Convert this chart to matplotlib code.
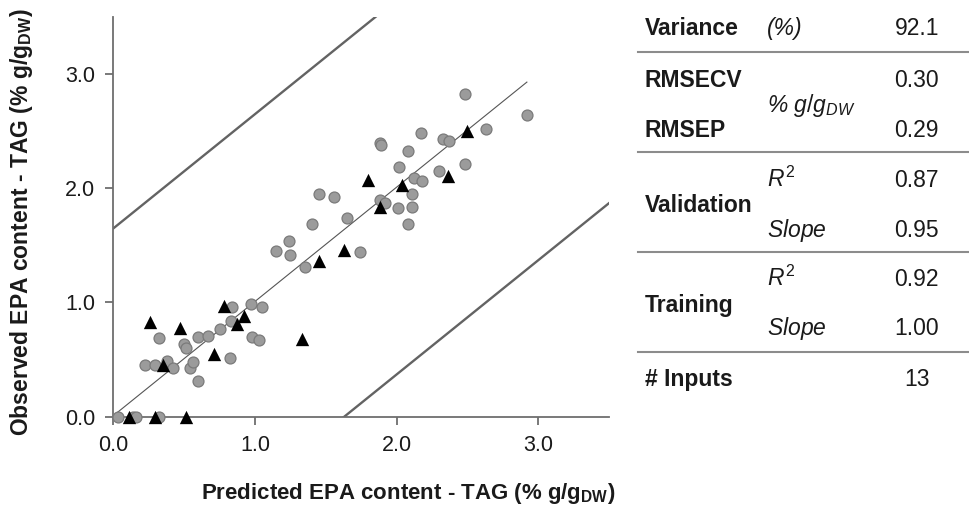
import matplotlib.pyplot as plt

plt.rcParams['font.family'] = ['Liberation Sans', 'DejaVu Sans']
plt.rcParams['mathtext.fontset'] = 'custom'
plt.rcParams['mathtext.rm'] = 'Liberation Sans'
plt.rcParams['mathtext.it'] = 'Liberation Sans:italic'
plt.rcParams['mathtext.bf'] = 'Liberation Sans:bold'

# training set (grey circles)
train_x = [0.03, 0.14, 0.16, 0.32, 0.22, 0.29, 0.38, 0.42, 0.32, 0.50, 0.51, 0.54,
           0.56, 0.60, 0.60, 0.67, 0.75, 0.82, 0.83, 0.84, 0.97, 1.05, 0.98, 1.03,
           1.15, 1.24, 1.25, 1.35, 1.40, 1.65, 1.74, 1.45, 1.56, 2.48, 2.92, 2.63,
           1.88, 1.89, 2.17, 2.33, 2.37, 2.08, 2.02, 2.48, 2.30, 2.12, 2.18, 2.11,
           1.88, 1.92, 2.01, 2.11, 2.08]
train_y = [0.00, 0.00, 0.00, 0.00, 0.45, 0.45, 0.49, 0.43, 0.69, 0.64, 0.60, 0.43,
           0.48, 0.31, 0.70, 0.71, 0.77, 0.51, 0.84, 0.96, 0.99, 0.96, 0.70, 0.67,
           1.45, 1.54, 1.42, 1.31, 1.69, 1.74, 1.44, 1.95, 1.92, 2.83, 2.64, 2.52,
           2.40, 2.38, 2.48, 2.43, 2.41, 2.33, 2.19, 2.21, 2.15, 2.09, 2.06, 1.95,
           1.90, 1.87, 1.83, 1.84, 1.69]

# validation set (black triangles)
valid_x = [0.11, 0.29, 0.51, 0.26, 0.47, 0.35, 0.71, 0.78, 0.87, 0.92, 1.33, 1.45,
           1.63, 2.50, 1.80, 2.04, 2.36, 1.88]
valid_y = [0.00, 0.00, 0.00, 0.83, 0.78, 0.45, 0.55, 0.97, 0.81, 0.88, 0.68, 1.36,
           1.46, 2.50, 2.07, 2.03, 2.11, 1.84]

fit_slope = 1.00
fit_intercept = 0.01
fit_xmax = 2.92
band = 1.64

ticks = [0, 1, 2, 3]
tick_labels = ['0.0', '1.0', '2.0', '3.0']

# summary table
row_names = ['Variance', 'RMSECV', 'RMSEP', 'Validation', 'Training', '# Inputs']
row_units = ['(%)', '% $g/g_{DW}$', '$R^2$', '$Slope$', '$R^2$', '$Slope$']
row_values = ['92.1', '0.30', '0.29', '0.87', '0.95', '0.92', '1.00', '13']

W, H = 970, 518
fig = plt.figure(figsize=(W / 100, H / 100), dpi=100)


def fx(px):
    return px / W


def fy(py):
    return 1 - py / H


ax = fig.add_axes([fx(113.5), fy(416.7), (609 - 113.5) / W, (416.7 - 17) / H])
ax.set_xlim(0, 3.5)
ax.set_ylim(0, 3.5)

xs = [0, 3.5]
ax.plot(xs, [x * fit_slope + fit_intercept + band for x in xs], color='#636363', lw=1.7, zorder=1)
ax.plot(xs, [x * fit_slope + fit_intercept - band for x in xs], color='#636363', lw=1.7, zorder=1)
ax.plot([0, fit_xmax], [fit_intercept, fit_xmax * fit_slope + fit_intercept],
        color='#555555', lw=0.8, zorder=2)

ax.scatter(train_x, train_y, s=62, c='#9b9b9b', edgecolors='#7a7a7a', linewidths=0.9,
           clip_on=False, zorder=3)
ax.scatter(valid_x, valid_y, s=92, marker='^', c='black', linewidths=0,
           clip_on=False, zorder=4)

for side in ['top', 'right']:
    ax.spines[side].set_visible(False)
for side in ['left', 'bottom']:
    ax.spines[side].set_color('#6e6e6e')
    ax.spines[side].set_linewidth(1.3)
ax.set_xticks(ticks)
ax.set_xticklabels(tick_labels)
ax.set_yticks(ticks)
ax.set_yticklabels(tick_labels)
ax.tick_params(direction='out', length=6, width=1.1, color='#555555',
               labelsize=15.5, labelcolor='#1a1a1a', pad=7)

fig.text(fx(408), fy(493), r'Predicted EPA content - TAG (% g/g$_\mathbf{DW}$)',
         ha='center', va='center', fontsize=16, fontweight='bold', color='#1a1a1a')
fig.text(fx(22), fy(222), r'Observed EPA content - TAG (% g/g$_\mathbf{DW}$)',
         ha='center', va='center', rotation=90, fontsize=16.5, fontweight='bold',
         color='#1a1a1a')

# table rules
for py in [52.3, 152.3, 252.3, 351.7]:
    fig.add_artist(plt.Line2D([fx(638), fx(970)], [fy(py), fy(py)],
                              color='#8c8c8c', lw=1.5))

name_y = [35, 86.7, 136.7, 211.7, 311.7, 386]
for name, py in zip(row_names, name_y):
    fig.text(fx(645), fy(py), name, ha='left', va='baseline', fontsize=16.5,
             fontweight='bold', color='#1a1a1a')

unit_y = [35, 111.7, 186.7, 236.7, 286, 335]
for unit, py in zip(row_units, unit_y):
    fig.text(fx(767), fy(py), unit, ha='left', va='baseline', fontsize=16.5,
             style='italic', color='#1a1a1a')

value_y = [35, 86.7, 136.7, 186.7, 236.7, 286, 335, 386]
for i, (val, py) in enumerate(zip(row_values, value_y)):
    x_right = 930 if i == len(row_values) - 1 else 939
    fig.text(fx(x_right), fy(py), val, ha='right', va='baseline', fontsize=16.5,
             color='#1a1a1a')

fig.savefig('out.png', dpi=100)
